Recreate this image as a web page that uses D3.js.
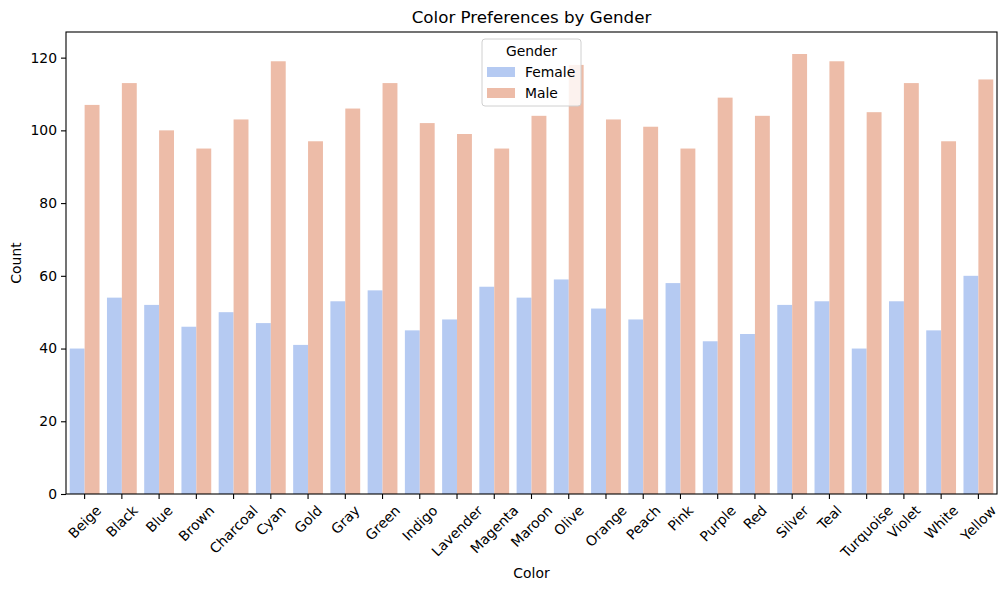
<!DOCTYPE html>
<html>
<head>
<meta charset="utf-8">
<script src="https://cdn.jsdelivr.net/npm/d3@7"></script>
<style>
  body { margin: 0; background: #fff; }
  text { font-family: "DejaVu Sans", sans-serif; fill: #000; }
</style>
</head>
<body>
<div id="chart"></div>
<script>
var colors = ['Beige', 'Black', 'Blue', 'Brown', 'Charcoal', 'Cyan', 'Gold', 'Gray', 'Green', 'Indigo',
	'Lavender', 'Magenta', 'Maroon', 'Olive', 'Orange', 'Peach', 'Pink', 'Purple', 'Red', 'Silver',
	'Teal', 'Turquoise', 'Violet', 'White', 'Yellow'];
var genders = ['Female', 'Male'];
var female = [40, 54, 52, 46, 50, 47, 41, 53, 56, 45, 48, 57, 54, 59, 51, 48, 58, 42, 44, 52, 53, 40, 53, 45, 60];
var male = [107, 113, 100, 95, 103, 119, 97, 106, 113, 102, 99, 95, 104, 118, 103, 101, 95, 109, 104, 121, 119, 105, 113, 97, 114];
var yTicks = [0, 20, 40, 60, 80, 100, 120];
var palette = ['#b5caf2', '#edbca8'];

var margins = {top: 32, right: 10, bottom: 96, left: 66};
var W = 1007, H = 590;
var width = W - margins.left - margins.right;
var height = H - margins.top - margins.bottom;

var svg = d3.select('#chart').append('svg')
	.attr('width', W)
	.attr('height', H);

var g = svg.append('g')
	.attr('transform', 'translate(' + margins.left + ',' + margins.top + ')');

var xscale = d3.scaleBand().domain(colors).range([0, width]).paddingInner(0.2).paddingOuter(0.1);
var sub = d3.scaleBand().domain(genders).range([0, xscale.bandwidth()]);
var yscale = d3.scaleLinear().domain([0, d3.max(male) * 1.05]).range([height, 0]);

var series = [female, male];
series.forEach(function(vals, s) {
	g.append('g').selectAll('rect').data(vals)
		.enter().append('rect')
		.attr('fill', palette[s])
		.attr('x', function(d, i) { return xscale(colors[i]) + sub(genders[s]); })
		.attr('width', sub.bandwidth())
		.attr('y', function(d) { return yscale(d); })
		.attr('height', function(d) { return height - yscale(d); });
});

// axes
var yaxis = d3.axisLeft(yscale).tickValues(yTicks).tickSize(5).tickPadding(4);
var yg = g.append('g').call(yaxis);
yg.select('.domain').remove();
yg.selectAll('line').attr('stroke', '#000').attr('stroke-width', 1.1);
yg.selectAll('text').style('font-size', '13.9px').style('font-family', '"DejaVu Sans"');

var xaxis = d3.axisBottom(xscale).tickSize(5).tickFormat('');
var xg = g.append('g').attr('transform', 'translate(0,' + height + ')').call(xaxis);
xg.select('.domain').remove();
xg.selectAll('line').attr('stroke', '#000').attr('stroke-width', 1.1);

// rotated tick labels, bbox centred on tick like matplotlib
var labelTop = height + 5 + 4;
colors.forEach(function(c) {
	var t = g.append('text')
		.attr('text-anchor', 'middle')
		.attr('dominant-baseline', 'central')
		.style('font-size', '13.9px')
		.text(c);
	var w = t.node().getComputedTextLength();
	var h = 13.9 * 1.0;
	var half = (w + h) / (2 * Math.SQRT2);
	var cx = xscale(c) + xscale.bandwidth() / 2;
	var cy = labelTop + half;
	t.attr('transform', 'translate(' + cx + ',' + cy + ') rotate(-45)');
});

// frame
g.append('rect')
	.attr('width', width).attr('height', height)
	.attr('fill', 'none').attr('stroke', '#000').attr('stroke-width', 1.1);

// titles
svg.append('text')
	.attr('x', margins.left + width / 2).attr('y', 23)
	.attr('text-anchor', 'middle')
	.style('font-size', '16.7px')
	.text('Color Preferences by Gender');

svg.append('text')
	.attr('x', margins.left + width / 2).attr('y', 578)
	.attr('text-anchor', 'middle')
	.style('font-size', '13.9px')
	.text('Color');

svg.append('text')
	.attr('transform', 'translate(21,' + (margins.top + height / 2) + ') rotate(-90)')
	.attr('text-anchor', 'middle')
	.style('font-size', '13.9px')
	.text('Count');

// legend
var lg = svg.append('g').attr('transform', 'translate(482,39)');
lg.append('rect')
	.attr('width', 99).attr('height', 67).attr('rx', 3)
	.attr('fill', '#fff').attr('fill-opacity', 0.8)
	.attr('stroke', '#d0d0d0').attr('stroke-width', 1);
lg.append('text')
	.attr('x', 49.5).attr('y', 17)
	.attr('text-anchor', 'middle')
	.style('font-size', '13.9px')
	.text('Gender');
genders.forEach(function(gname, i) {
	lg.append('rect')
		.attr('x', 5).attr('y', 28 + i * 21)
		.attr('width', 28).attr('height', 10)
		.attr('fill', palette[i]);
	lg.append('text')
		.attr('x', 43).attr('y', 38 + i * 21)
		.style('font-size', '13.9px')
		.text(gname);
});
</script>
</body>
</html>
